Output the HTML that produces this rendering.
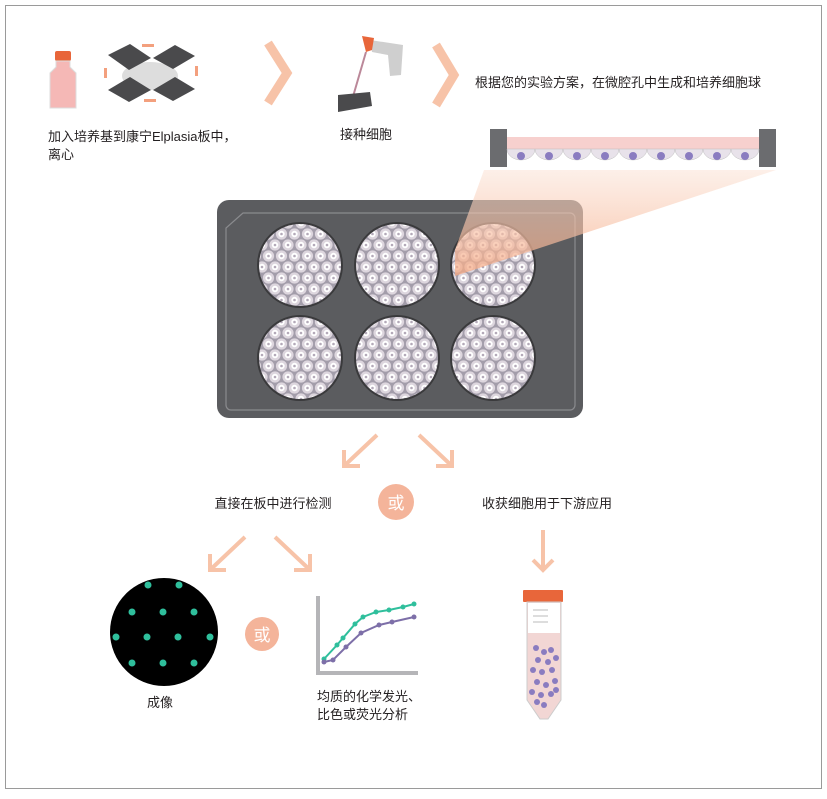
<!DOCTYPE html>
<html><head><meta charset="utf-8"><style>
body{margin:0;background:#fff}
svg text{font-family:"Liberation Sans","Noto Sans CJK SC",sans-serif;fill:#231f20}
</style></head><body>
<svg width="827" height="794" viewBox="0 0 827 794" xmlns="http://www.w3.org/2000/svg">
<defs>
<g id="cell"><circle r="5.6" fill="#ddd6de"/><circle r="3.2" fill="#fff"/><circle r="1.3" fill="#b3a9b8"/></g>
<pattern id="wp" width="13" height="22" patternUnits="userSpaceOnUse" x="2" y="3">
<rect width="13" height="22" fill="#a39daa"/>
<use href="#cell" x="0" y="0"/><use href="#cell" x="13" y="0"/><use href="#cell" x="0" y="22"/><use href="#cell" x="13" y="22"/>
<use href="#cell" x="6.5" y="11"/>
</pattern>
<linearGradient id="beam" x1="0" y1="0" x2="0" y2="1"><stop offset="0" stop-color="#fbe3d6" stop-opacity=".55"/><stop offset="1" stop-color="#f5a882" stop-opacity=".75"/></linearGradient>
</defs>
<rect x="5.5" y="5.5" width="816" height="783" fill="none" stroke="#9a9a9a"/>

<!-- bottle -->
<rect x="55" y="51" width="16" height="10" rx="2" fill="#e8663a"/>
<path d="M56 61h14v6l6 6v35h-26v-35l6-6z" fill="#f5b8b6" stroke="#ddd"/>
<!-- centrifuge plates -->
<ellipse cx="150" cy="76" rx="28" ry="14" fill="#ddd"/>
<g fill="#4a4a4c">
<polygon points="108,55 130,44 151,58 129,70"/><polygon points="153,58 175,45 195,56 173,69"/>
<polygon points="108,90 130,77 151,90 129,102"/><polygon points="153,90 175,77 195,89 173,101"/>
</g>
<g fill="#f3a07e"><rect x="142" y="44" width="12" height="3"/><rect x="144" y="99" width="12" height="3"/><rect x="195" y="66" width="3" height="10"/><rect x="104" y="68" width="3" height="10"/></g>
<!-- chevrons -->
<polyline points="268,43 287,73 268,103" fill="none" stroke="#f7c3a8" stroke-width="9"/>
<polyline points="436,45 454,75 436,105" fill="none" stroke="#f7c3a8" stroke-width="9"/>
<!-- pipette -->
<polygon points="370,40 403,45 401,75 390,76 388,55 372,52" fill="#cfcfcf"/>
<polygon points="362,36 374,38 372,50 366,52" fill="#e8663a"/>
<line x1="366" y1="52" x2="352" y2="100" stroke="#b89" stroke-width="2"/>
<polygon points="338,95 370,92 372,106 338,112" fill="#4a4a4c"/>
<!-- cross section -->
<rect x="490" y="129" width="17" height="38" fill="#6b6c6f"/>
<rect x="759" y="129" width="17" height="38" fill="#6b6c6f"/>
<rect x="507" y="137" width="252" height="12" fill="#f7d0ce"/>
<g fill="#e8e2ea" stroke="#bbb" stroke-width=".5">
<path d="M507 149 a14 11 0 0 0 28 0z"/><path d="M535 149 a14 11 0 0 0 28 0z"/><path d="M563 149 a14 11 0 0 0 28 0z"/><path d="M591 149 a14 11 0 0 0 28 0z"/><path d="M619 149 a14 11 0 0 0 28 0z"/><path d="M647 149 a14 11 0 0 0 28 0z"/><path d="M675 149 a14 11 0 0 0 28 0z"/><path d="M703 149 a14 11 0 0 0 28 0z"/><path d="M731 149 a14 11 0 0 0 28 0z"/>
</g>
<g fill="#8a7cc0"><circle cx="521" cy="156" r="4"/><circle cx="549" cy="156" r="4"/><circle cx="577" cy="156" r="4"/><circle cx="605" cy="156" r="4"/><circle cx="633" cy="156" r="4"/><circle cx="661" cy="156" r="4"/><circle cx="689" cy="156" r="4"/><circle cx="717" cy="156" r="4"/><circle cx="745" cy="156" r="4"/></g>
<!-- plate -->
<rect x="217" y="200" width="366" height="218" rx="12" fill="#5b5c5f"/>
<path d="M243 213 H570 a5 5 0 0 1 5 5 V405 a5 5 0 0 1-5 5 H231 a5 5 0 0 1-5-5 V228z" fill="none" stroke="#8a8b8e" stroke-width="1.2"/>
<g stroke="#3a3a3c" stroke-width="2" fill="url(#wp)">
<circle cx="300" cy="265" r="42"/><circle cx="397" cy="265" r="42"/><circle cx="493" cy="265" r="42"/>
<circle cx="300" cy="358" r="42"/><circle cx="397" cy="358" r="42"/><circle cx="493" cy="358" r="42"/>
</g>
<polygon points="484,170 776,170 455,276 455,250" fill="url(#beam)"/>
<!-- texts -->
<text x="48" y="141" font-size="13">加入培养基到康宁Elplasia板中，</text>
<text x="48" y="159" font-size="13">离心</text>
<text x="366" y="139" font-size="13" text-anchor="middle">接种细胞</text>
<text x="475" y="87" font-size="13">根据您的实验方案，在微腔孔中生成和培养细胞球</text>
<!-- down arrows -->
<g fill="none" stroke="#f7c3a8" stroke-width="4">
<path d="M377 435 L344 466 M344 450 V466 H360"/>
<path d="M419 435 L452 466 M452 450 V466 H436"/>
<path d="M245 537 L210 570 M210 554 V570 H226"/>
<path d="M275 537 L310 570 M310 554 V570 H294"/>
<path d="M543 530 V570 M533 560 L543 570 L553 560"/>
</g>
<text x="273" y="508" font-size="13" text-anchor="middle">直接在板中进行检测</text>
<circle cx="396" cy="502" r="18" fill="#f4b49a"/>
<text x="396" y="509" font-size="17" text-anchor="middle" style="fill:#fff">或</text>
<text x="547" y="508" font-size="13" text-anchor="middle">收获细胞用于下游应用</text>
<!-- imaging -->
<circle cx="164" cy="632" r="54" fill="#000"/>
<g fill="#2fbf9c">
<circle cx="148" cy="585" r="3.5"/><circle cx="179" cy="585" r="3.5"/>
<circle cx="132" cy="612" r="3.5"/><circle cx="163" cy="612" r="3.5"/><circle cx="194" cy="612" r="3.5"/>
<circle cx="116" cy="637" r="3.5"/><circle cx="147" cy="637" r="3.5"/><circle cx="178" cy="637" r="3.5"/><circle cx="210" cy="637" r="3.5"/>
<circle cx="132" cy="663" r="3.5"/><circle cx="163" cy="663" r="3.5"/><circle cx="194" cy="663" r="3.5"/>
</g>
<circle cx="262" cy="634" r="17" fill="#f4b49a"/>
<text x="262" y="641" font-size="17" text-anchor="middle" style="fill:#fff">或</text>
<text x="160" y="707" font-size="13" text-anchor="middle">成像</text>
<!-- chart -->
<polyline points="318,596 318,673 418,673" fill="none" stroke="#b5b5b8" stroke-width="4"/>
<polyline points="324,659 337,645 343,638 355,624 363,617 376,612 389,610 403,607 414,604" fill="none" stroke="#2fbf9c" stroke-width="2"/>
<g fill="#2fbf9c"><circle cx="324" cy="659" r="2.5"/><circle cx="337" cy="645" r="2.5"/><circle cx="343" cy="638" r="2.5"/><circle cx="355" cy="624" r="2.5"/><circle cx="363" cy="617" r="2.5"/><circle cx="376" cy="612" r="2.5"/><circle cx="389" cy="610" r="2.5"/><circle cx="403" cy="607" r="2.5"/><circle cx="414" cy="604" r="2.5"/></g>
<polyline points="324,662 333,660 346,647 361,633 379,625 392,622 414,617" fill="none" stroke="#7d6fa8" stroke-width="2"/>
<g fill="#7d6fa8"><circle cx="324" cy="662" r="2.5"/><circle cx="333" cy="660" r="2.5"/><circle cx="346" cy="647" r="2.5"/><circle cx="361" cy="633" r="2.5"/><circle cx="379" cy="625" r="2.5"/><circle cx="392" cy="622" r="2.5"/><circle cx="414" cy="617" r="2.5"/></g>
<text x="317" y="701" font-size="13">均质的化学发光、</text>
<text x="317" y="719" font-size="13">比色或荧光分析</text>
<!-- tube -->
<rect x="523" y="590" width="40" height="12" rx="1" fill="#e8663a"/>
<path d="M527 602 H561 V700 L548 719 H540 L527 700z" fill="#f2d6d4" stroke="#ccc"/>
<rect x="528" y="603" width="32" height="30" fill="#fff"/>
<g stroke="#bbb"><line x1="533" y1="610" x2="548" y2="610"/><line x1="533" y1="616" x2="548" y2="616"/><line x1="533" y1="622" x2="548" y2="622"/></g>
<g fill="#8a7cc0">
<circle cx="536" cy="648" r="3"/><circle cx="544" cy="652" r="3"/><circle cx="551" cy="650" r="3"/><circle cx="538" cy="660" r="3"/><circle cx="548" cy="662" r="3"/><circle cx="556" cy="658" r="3"/><circle cx="533" cy="670" r="3"/><circle cx="542" cy="672" r="3"/><circle cx="552" cy="670" r="3"/><circle cx="537" cy="682" r="3"/><circle cx="546" cy="685" r="3"/><circle cx="555" cy="681" r="3"/><circle cx="532" cy="692" r="3"/><circle cx="541" cy="695" r="3"/><circle cx="551" cy="694" r="3"/><circle cx="544" cy="705" r="3"/><circle cx="537" cy="702" r="3"/><circle cx="556" cy="690" r="3"/>
</g>
</svg>
</body></html>
